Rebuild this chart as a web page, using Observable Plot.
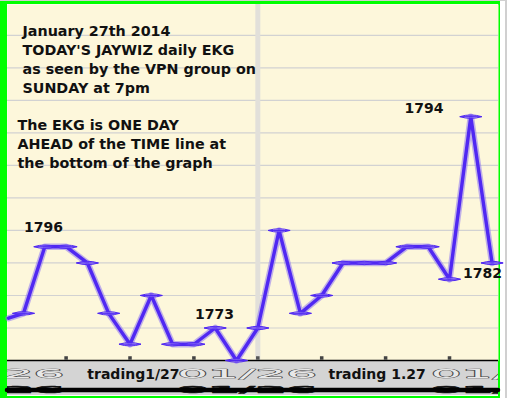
<!DOCTYPE html>
<html>
<head>
<meta charset="utf-8">
<script src="https://cdn.jsdelivr.net/npm/d3@7"></script>
<script src="https://cdn.jsdelivr.net/npm/@observablehq/plot@0.6"></script>
<style>
  body { margin: 0; background: #ffffff; }
  #wrap { position: relative; width: 507px; height: 398px; overflow: hidden; background: #fff; }
  #wrap svg { display: block; position: absolute; left: 0; top: 0; }
  .border { position: absolute; left: 0; top: 1px; width: 500px; height: 397px; box-sizing: border-box;
    border-left: 7px solid #00ff00; border-top: 3px solid #00ff00; border-right: 2px solid #00ff00;
    border-bottom: 2px solid #00ff00; }
  .rightpad { position: absolute; left: 505px; top: 0; width: 2px; height: 398px; background: #d0d0d0; }
  .toppad { position: absolute; left: 0; top: 0; width: 507px; height: 1px; background: #d0d0d0; }
</style>
</head>
<body>
<div id="wrap"><div class="toppad"></div><div class="rightpad"></div><div class="border"></div></div>
<script>
// ---- data ----
// EKG readings, one per session (index), in grid-line units
const sessionIndex = [-0.7, 0, 1, 2, 3, 4, 5, 6, 7, 8, 9, 10, 11, 12, 13, 14, 15, 16, 17, 18, 19, 20, 21, 22];
const ekgLevel     = [1.3, 1.45, 3.5, 3.5, 3.0, 1.45, 0.5, 2.0, 0.5, 0.5, 1.0, 0.0, 1.0, 4.0, 1.45, 2.0, 3.0, 3.0, 3.0, 3.5, 3.5, 2.5, 7.5, 3.0];
const hasMarker    = sessionIndex.map((d) => Number.isInteger(d));

const gridLevels = [1, 2, 3, 4, 5, 6, 7, 8, 9, 10];
const timeTickIndex = [2, 5, 8, 11, 14, 17, 20];
const todayIndex = 11;

const peakLabels = ["1796", "1773", "1794", "1782"];
const peakLabelIndex = [0.94, 8.97, 18.8, 21.55];
const peakLabelLevel = [4.09, 1.42, 7.75, 2.68];

const noteTop = "January 27th 2014\nTODAY'S JAYWIZ daily EKG\nas seen by the VPN group on\nSUNDAY at 7pm";
const noteBottom = "The EKG is ONE DAY\nAHEAD of the TIME line at\nthe bottom of the graph";

const axisDateLabels = ["01/26", "01/26", "01/26"];
const axisDateIndex = [-1.36, 10.5, 22.4];
const tradingLabels = ["trading1/27", "trading 1.27"];
const tradingIndex = [5.16, 16.6];

// ---- build ----
const series = sessionIndex.map((x, i) => ({x, y: ekgLevel[i], m: hasMarker[i]}));
const peaks = peakLabels.map((t, i) => ({t, x: peakLabelIndex[i], y: peakLabelLevel[i]}));
const dates = axisDateLabels.map((t, i) => ({t, x: axisDateIndex[i]}));
const trading = tradingLabels.map((t, i) => ({t, x: tradingIndex[i]}));

const lens = {
  draw(context) {
    context.moveTo(-11, 0);
    context.quadraticCurveTo(0, -3.4, 11, 0);
    context.quadraticCurveTo(0, 3.4, -11, 0);
    context.closePath();
    context.moveTo(-11, 0);
    context.lineTo(11, 0);
  }
};

const purple = "#5028f2";
const font = "DejaVu Sans";
const mL = 7, mR = 9, mT = 4, mB = 38;

const chart = Plot.plot({
  width: 507,
  height: 398,
  marginLeft: mL,
  marginRight: mR,
  marginTop: mT,
  marginBottom: mB,
  style: {background: "transparent", fontFamily: font},
  x: {domain: [-0.751, 22.3], axis: null},
  y: {domain: [0, 10.95], axis: null},
  marks: [
    Plot.frame({fill: "#fdf7db", stroke: null}),
    Plot.ruleY(gridLevels, {stroke: "#d2d2d2", strokeWidth: 1.2}),
    Plot.ruleX([todayIndex], {stroke: "#e2e0da", strokeWidth: 5}),
    // bottom band
    Plot.rect([{y1: 0, y2: -1.08}], {y1: "y1", y2: "y2", fill: "#d4d4d4"}),
    Plot.text(dates, {x: "x", text: "t", frameAnchor: "bottom", dy: 17, fill: "#e8e8e8", stroke: "#444",
      strokeWidth: 0.7, fontSize: 13, className: "garble"}),
    Plot.text(dates, {x: "x", text: "t", frameAnchor: "bottom", dy: 32, fill: "#111", stroke: "#111",
      strokeWidth: 0.5, fontSize: 9, fontWeight: "bold", className: "garble"}),
    Plot.ruleY([-0.91], {stroke: "#000", strokeWidth: 4.5, strokeLinecap: "round"}),
    Plot.ruleY([0], {stroke: "#000", strokeWidth: 1.3}),
    Plot.text(trading, {x: "x", text: "t", frameAnchor: "bottom", dy: 18, fill: "#111", fontSize: 14,
      fontWeight: "bold"}),
    // time ticks
    Plot.dot(timeTickIndex, {x: (d) => d, frameAnchor: "bottom", dy: -2.5, symbol: "square", r: 2,
      fill: (d) => (d === todayIndex ? "#555" : "#444"), stroke: null}),
    // EKG line
    Plot.line(series, {x: "x", y: "y", stroke: "#8e76f2", strokeWidth: 6.5, strokeOpacity: 0.55}),
    Plot.line(series, {x: "x", y: "y", stroke: purple, strokeWidth: 3.4}),
    Plot.dot(series.filter((d) => d.m), {x: "x", y: "y", symbol: lens, fill: "#a896f5", fillOpacity: 0.6,
      stroke: purple, strokeWidth: 1}),
    // labels
    Plot.text(peaks, {x: "x", y: "y", text: "t", fontSize: 14, fontWeight: "bold", fill: "#111"}),
    Plot.text([noteTop], {frameAnchor: "top-left", dx: 15, dy: 18, lineAnchor: "top", lineHeight: 1.33,
      fontSize: 14.3, fontWeight: "bold", fill: "#111", textAnchor: "start"}),
    Plot.text([noteBottom], {frameAnchor: "top-left", dx: 10, dy: 112, lineAnchor: "top", lineHeight: 1.33,
      fontSize: 14.3, fontWeight: "bold", fill: "#111", textAnchor: "start"})
  ]
});

// clip the stretched date glyphs to the bottom band (wrapper groups avoid the marks' own transforms)
const svg = d3.select(chart);
svg.append("defs").append("clipPath").attr("id", "bandclip")
  .append("rect").attr("x", mL).attr("y", 398 - mB).attr("width", 507 - mL - mR).attr("height", mB - 3);
svg.selectAll("g.garble").each(function () {
  const wrapper = document.createElementNS("http://www.w3.org/2000/svg", "g");
  wrapper.setAttribute("clip-path", "url(#bandclip)");
  this.parentNode.insertBefore(wrapper, this);
  wrapper.appendChild(this);
  d3.select(this).selectAll("text")
    .attr("textLength", 140)
    .attr("lengthAdjust", "spacingAndGlyphs");
});

document.getElementById("wrap").appendChild(chart);
</script>
</body>
</html>
